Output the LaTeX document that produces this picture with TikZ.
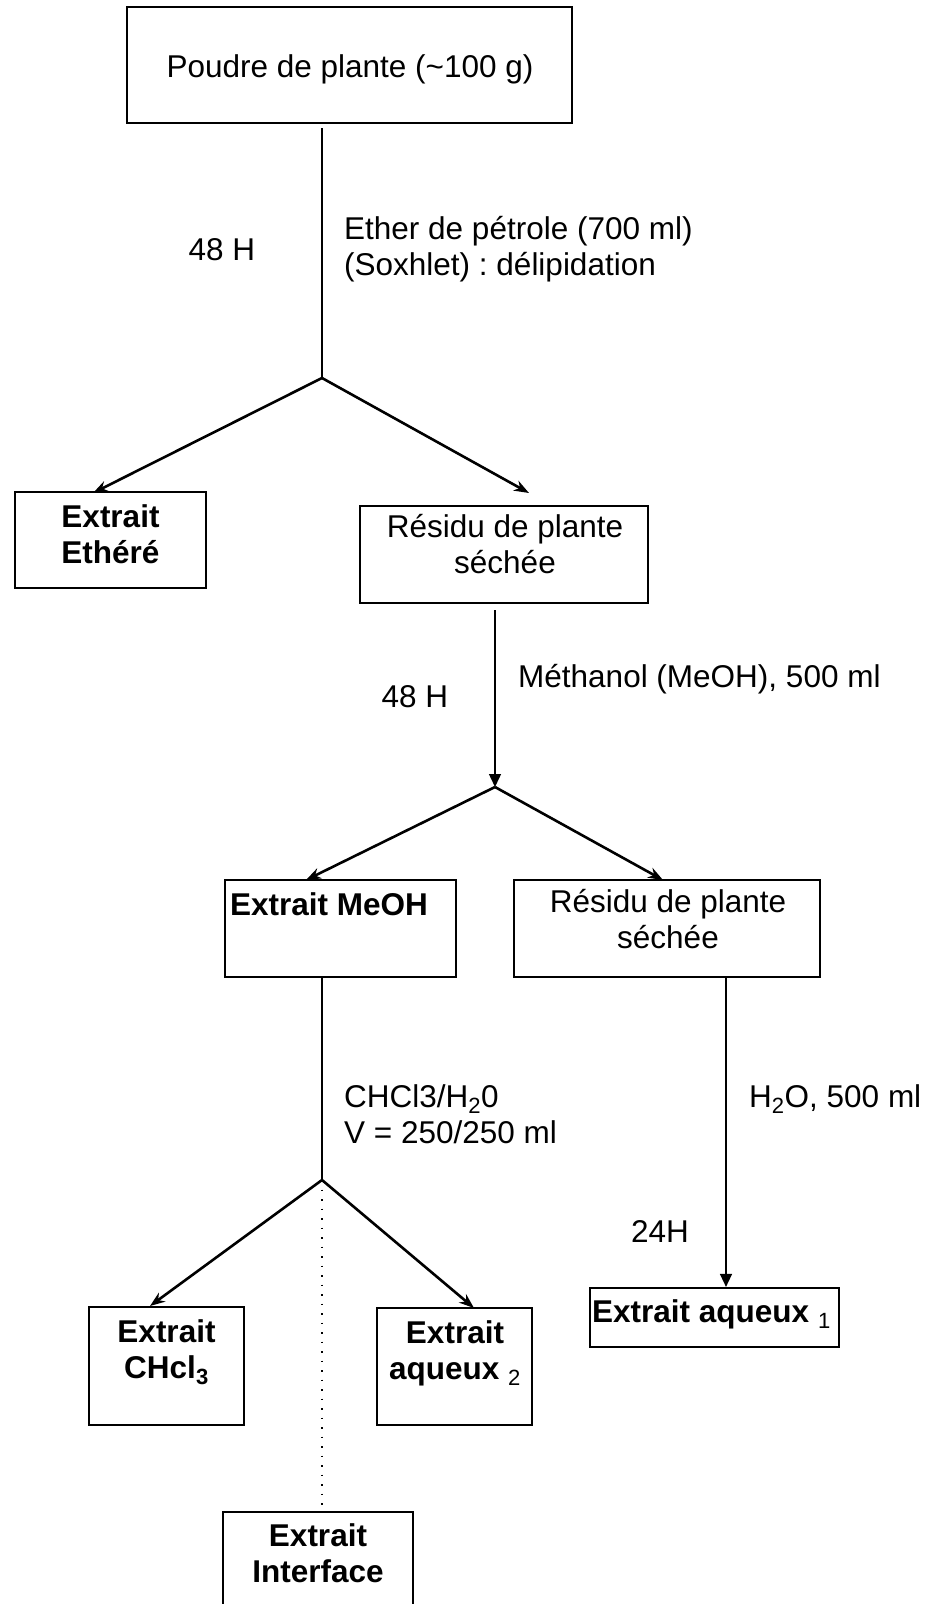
\documentclass[tikz,border=0pt]{standalone}
\usepackage{fontspec}
\setmainfont{Liberation Sans}
\frenchspacing
\usetikzlibrary{arrows.meta}

\tikzset{
  boite/.style={draw, line width=2.2pt, inner sep=0pt, rectangle},
  tige/.style={line width=1.4pt},
  descente/.style={line width=1.4pt, -{Triangle[length=13pt,width=12pt]}},
  fleche/.style={line width=2.6pt, -{Stealth[length=15pt,width=11pt]}},
  texte/.style={inner sep=0pt, font=\fontsize{31.5}{36}\selectfont, align=center},
}

\begin{document}
\begin{tikzpicture}[x=1pt,y=-1pt]

\fill[white] (0,0) rectangle (929,1604);
\useasboundingbox (0,0) rectangle (929,1604);

% les boites
\node[boite, minimum width=445pt, minimum height=116pt] (poudre) at (349.5,65) {};
\node[boite, minimum width=191pt, minimum height=96pt] (ethere) at (110.5,540) {};
\node[boite, minimum width=288pt, minimum height=97pt] (residuA) at (504,554.5) {};
\node[boite, minimum width=231pt, minimum height=97pt] (meoh) at (340.5,928.5) {};
\node[boite, minimum width=306pt, minimum height=97pt] (residuB) at (667,928.5) {};
\node[boite, minimum width=155pt, minimum height=118pt] (chcl) at (166.5,1366) {};
\node[boite, minimum width=155pt, minimum height=117pt] (aqdeux) at (454.5,1366.5) {};
\node[boite, minimum width=249pt, minimum height=59pt] (aqun) at (714.5,1317.5) {};
\node[boite, minimum width=190pt, minimum height=108pt] (interface) at (318,1566) {};

% points de separation
\coordinate (j1) at (322,378);
\coordinate (j2) at (495,787);
\coordinate (j3) at (322,1180);
\coordinate (pEthere) at (93,493);
\coordinate (pResiduA) at (529,493);
\coordinate (pMeoh) at (306,880);
\coordinate (pResiduB) at (663,880);
\coordinate (pChcl) at (150,1306);
\coordinate (pAqdeux) at (474,1308);

\draw[tige, shorten <=4pt] (poudre.south -| j1) -- (j1);
\draw[fleche] (j1) -- (pEthere);
\draw[fleche] (j1) -- (pResiduA);

\draw[descente, shorten <=6pt] (residuA.south -| j2) -- (j2);
\draw[fleche] (j2) -- (pMeoh);
\draw[fleche] (j2) -- (pResiduB);

\draw[tige] (meoh.south -| j3) -- (j3);
\draw[fleche] (j3) -- (pChcl);
\draw[fleche] (j3) -- (pAqdeux);
\draw[line width=1.4pt, dash pattern=on 1.5pt off 8pt] (j3) -- (interface.north -| j3);

\draw[descente] (residuB.south -| 726,0) -- (aqun.north -| 726,0);

% les textes (base = ligne du bas)
\node (tPoudre) at (350,77) [texte, anchor=base] {Poudre de plante (\textasciitilde100 g)};
\node (tHa) at (222,260) [texte, anchor=base] {48 H};
\node (tEther) at (344,275) [texte, anchor=base west, align=left] {Ether de pétrole (700 ml)\\(Soxhlet) : délipidation};
\node (tEthere) at (110.5,563) [texte, anchor=base, font=\fontsize{31.5}{36}\selectfont\bfseries] {Extrait\\Ethéré};
\node (tResiduA) at (505,573) [texte, anchor=base] {Résidu de plante\\séchée};
\node (tMethanol) at (518,687) [texte, anchor=base west] {Méthanol (MeOH), 500 ml};
\node (tHb) at (415,707) [texte, anchor=base] {48 H};
\node (tMeoh) at (230,915) [texte, anchor=base west, font=\fontsize{31.5}{36}\selectfont\bfseries] {Extrait MeOH};
\node (tResiduB) at (668,948) [texte, anchor=base] {Résidu de plante\\séchée};
\node (tPartage) at (344,1143) [texte, anchor=base west, align=left] {CHCl3/H\textsubscript{2}0\\V = 250/250 ml};
\node (tEau) at (749,1107) [texte, anchor=base west] {H\textsubscript{2}O, 500 ml};
\node (tHc) at (660,1242) [texte, anchor=base] {24H};
\node (tChcl) at (166.5,1378) [texte, anchor=base, font=\fontsize{31.5}{36}\selectfont\bfseries] {Extrait\\CHcl\textsubscript{3}};
\node (tAqdeux) at (455,1379) [texte, anchor=base, font=\fontsize{31.5}{36}\selectfont\bfseries] {Extrait\\aqueux \textsubscript{\mdseries 2}};
\node (tAqun) at (592,1322) [texte, anchor=base west, font=\fontsize{31.5}{36}\selectfont\bfseries] {Extrait aqueux \textsubscript{\mdseries 1}};
\node (tInterface) at (318,1582) [texte, anchor=base, font=\fontsize{31.5}{36}\selectfont\bfseries] {Extrait\\Interface};

\end{tikzpicture}
\end{document}
